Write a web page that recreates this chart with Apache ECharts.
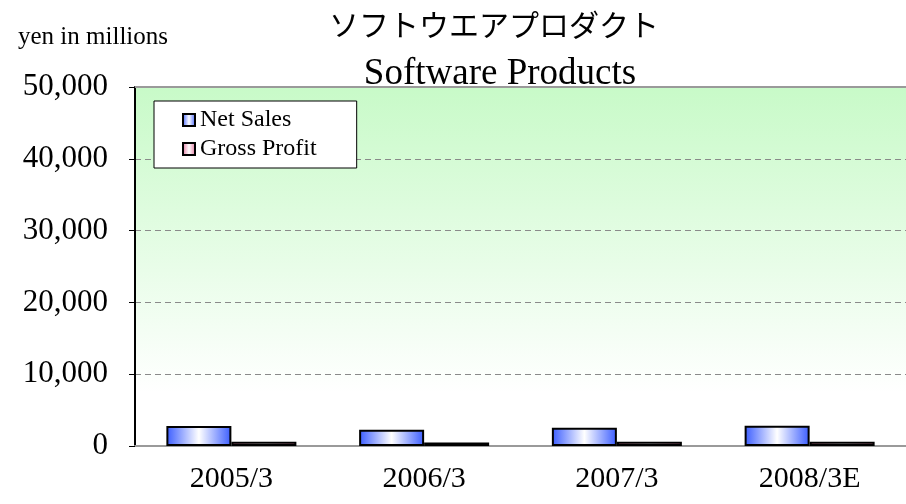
<!DOCTYPE html>
<html><head><meta charset="utf-8">
<script src="https://cdn.jsdelivr.net/npm/echarts@6/dist/echarts.min.js"></script>
<style>html,body{margin:0;padding:0;background:#fff}#c{width:906px;height:504px}</style>
</head><body><div id="c"></div>
<script>
var categories = ['2005/3', '2006/3', '2007/3', '2008/3E'];
var netSales = [2800, 2270, 2550, 2830];
var grossProfit = [580, 500, 580, 580];
var seriesNames = ['Net Sales', 'Gross Profit'];
var yTicks = [0, 10000, 20000, 30000, 40000, 50000];

var serif = '"Liberation Serif", "DejaVu Serif", "Noto Sans CJK JP", serif';
function hGrad(edge) {
  return new echarts.graphic.LinearGradient(0, 0, 1, 0, [
    {offset: 0, color: edge}, {offset: 0.5, color: '#ffffff'}, {offset: 1, color: edge}
  ]);
}
var chart = echarts.init(document.getElementById('c'), null, {renderer: 'canvas'});
chart.setOption({
  animation: false,
  backgroundColor: '#ffffff',
  title: [
    {text: 'ソフトウエアプロダクト', left: 494, top: 10, textAlign: 'center', padding: 0,
     textStyle: {fontFamily: '"Noto Sans CJK JP", serif', fontSize: 30, fontWeight: 'normal', color: '#000'}},
    {text: 'Software Products', left: 500, top: 56, textAlign: 'center', padding: 0,
     textStyle: {fontFamily: serif, fontSize: 37, fontWeight: 'normal', color: '#000'}},
    {text: 'yen in millions', left: 18, top: 25, padding: 0,
     textStyle: {fontFamily: serif, fontSize: 25, fontWeight: 'normal', color: '#000'}}
  ],
  legend: {
    orient: 'vertical', left: 154, top: 101,
    padding: [7, 40, 7, 28],
    itemGap: 5,
    backgroundColor: '#ffffff', borderColor: '#000', borderWidth: 1,
    itemWidth: 12, itemHeight: 12,
    icon: 'rect',
    data: seriesNames,
    textStyle: {fontFamily: serif, fontSize: 24, color: '#000', lineHeight: 24}
  },
  grid: {
    left: 135, right: 0, top: 87, bottom: 58, show: true,
    borderWidth: 0,
    backgroundColor: new echarts.graphic.LinearGradient(0, 0, 0, 1, [
      {offset: 0, color: '#c8fac8'}, {offset: 0.85, color: '#ffffff'}, {offset: 1, color: '#ffffff'}
    ])
  },
  xAxis: {
    type: 'category', data: categories,
    axisLine: {show: true, lineStyle: {color: '#9a9a9a', width: 2}},
    axisTick: {show: false},
    axisLabel: {fontFamily: serif, fontSize: 30, color: '#000', margin: 18}
  },
  yAxis: [{
    type: 'value', min: 0, max: 50000, interval: 10000,
    axisLine: {show: true, lineStyle: {color: '#000', width: 2}},
    axisTick: {show: true, length: 6, lineStyle: {color: '#000', width: 1}},
    splitLine: {show: true, lineStyle: {color: '#8a8a8a', type: [6, 4], width: 1}},
    axisLabel: {fontFamily: serif, fontSize: 31, color: '#000', margin: 27,
      formatter: function (v) { return yTicks.indexOf(v) >= 0 ? v.toLocaleString('en-US') : ''; }}
  }],
  graphic: [{
    type: 'line', shape: {x1: 135, y1: 87, x2: 906, y2: 87},
    style: {stroke: '#9a9a9a', lineWidth: 2}, z: 5
  }],
  series: [
    {name: seriesNames[0], type: 'bar', data: netSales, barWidth: 65, barGap: '0%',
     itemStyle: {color: hGrad('#3a5cff'), borderColor: '#000', borderWidth: 2}},
    {name: seriesNames[1], type: 'bar', data: grossProfit, barWidth: 65,
     itemStyle: {color: hGrad('#e0709a'), borderColor: '#000', borderWidth: 2}}
  ]
});
</script></body></html>
